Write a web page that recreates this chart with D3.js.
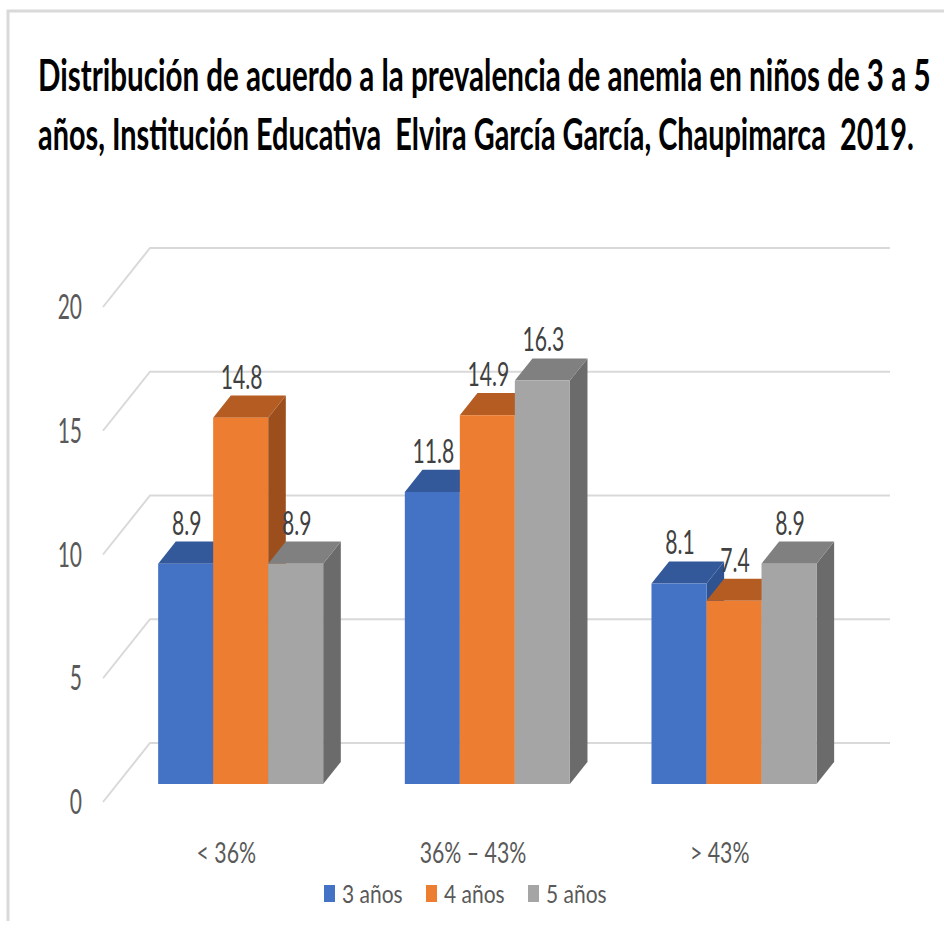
<!DOCTYPE html>
<html>
<head>
<meta charset="utf-8">
<script src="https://cdn.jsdelivr.net/npm/d3@7"></script>
<style>
  body { margin: 0; background: #fff; }
  svg { display: block; }
</style>
</head>
<body>
<div id="chart"></div>
<script>
// datos
const categories = ["< 36%", "36% \u2013 43%", "> 43%"];
const series = ["3 años", "4 años", "5 años"];
const valores3 = [8.9, 11.8, 8.1];
const valores4 = [14.8, 14.9, 7.4];
const valores5 = [8.9, 16.3, 8.9];
const yTicks = [0, 5, 10, 15, 20];
const titleLines = [
  "Distribución de acuerdo a la prevalencia de anemia en niños de 3 a 5",
  "años, Institución Educativa  Elvira García García, Chaupimarca  2019."
];

const seriesValues = [valores3, valores4, valores5];
const colors = [
  { front: "#4472C4", top: "#34599b", side: "#2f5290" },
  { front: "#ED7D31", top: "#b55c22", side: "#9c4f1c" },
  { front: "#A5A5A5", top: "#808080", side: "#6b6b6b" }
];

const W = 944, H = 929;
const font = "Lato, 'Open Sans', sans-serif";

const svg = d3.select("#chart").append("svg")
  .attr("width", W).attr("height", H);

svg.append("rect").attr("width", W).attr("height", H).attr("fill", "#fff");

// marco
svg.append("path")
  .attr("d", `M8,${H - 8} L8,11 L${W},11`)
  .attr("fill", "none").attr("stroke", "#d9d9d9").attr("stroke-width", 3);

// título (comprimido horizontalmente como en el original)
const titleWidths = [893, 876];
svg.selectAll(".title").data(titleLines).join("text")
  .attr("class", "title")
  .style("font-family", font).style("font-weight", 700)
  .style("font-size", "44px").style("white-space", "pre")
  .attr("fill", "#000")
  .text(d => d)
  .attr("transform", function(d, i) {
    const k = titleWidths[i] / this.getComputedTextLength();
    return `translate(38,${91 + i * 59}) scale(${k},1)`;
  });

// geometría 3D: (x en el suelo, valor, profundidad 0..1)
const origin = { x: 103, y: 802 };
const depth = { x: 47, y: -59 };
const plotW = 740;
const y = d3.scaleLinear().domain([0, 20]).range([0, 495]);
const x0 = d3.scaleBand().domain(categories).range([0, plotW]);
const x1 = d3.scaleBand().domain(series).range([0, x0.bandwidth()]).paddingOuter(0.742);
const dFront = 0.305, dBack = 0.68;

function P(xp, v, d) {
  return [origin.x + xp + depth.x * d, origin.y - y(v) + depth.y * d];
}

// cuadrícula
const grid = svg.append("g");
yTicks.forEach(t => {
  const a = P(0, t, 0), b = P(0, t, 1), c = P(plotW, t, 1);
  grid.append("path")
    .attr("d", `M${a[0]},${a[1]} L${b[0]},${b[1]} L${c[0]},${c[1]}`)
    .attr("fill", "none").attr("stroke", "#d9d9d9").attr("stroke-width", 2);
});

// etiquetas eje Y
svg.selectAll(".ytick").data(yTicks).join("text")
  .attr("class", "ytick")
  .attr("transform", d => { const p = P(0, d, 0); return `translate(82,${p[1] + 12}) scale(0.6,1)`; })
  .attr("text-anchor", "end")
  .style("font-family", font).style("font-size", "35px")
  .attr("fill", "#595959")
  .text(d => d);

// barras
const bars = svg.append("g");
const labelData = [];
categories.forEach((cat, ci) => {
  series.forEach((s, si) => {
    const v = seriesValues[si][ci];
    const c = colors[si];
    const xl = x0(cat) + x1(s), xr = xl + x1.bandwidth();
    const fl = P(xl, v, dFront), fr = P(xr, v, dFront), f0 = P(xr, 0, dFront), f0l = P(xl, 0, dFront);
    const bl = P(xl, v, dBack), br = P(xr, v, dBack), b0 = P(xr, 0, dBack);
    const g = bars.append("g");
    g.append("path")
      .attr("d", `M${fr[0]},${fr[1]} L${br[0]},${br[1]} L${b0[0]},${b0[1]} L${f0[0]},${f0[1]} Z`)
      .attr("fill", c.side);
    g.append("path")
      .attr("d", `M${fl[0]},${fl[1]} L${fr[0]},${fr[1]} L${br[0]},${br[1]} L${bl[0]},${bl[1]} Z`)
      .attr("fill", c.top);
    g.append("rect")
      .attr("x", fl[0]).attr("y", fl[1])
      .attr("width", fr[0] - fl[0]).attr("height", f0l[1] - fl[1])
      .attr("fill", c.front);
    labelData.push({ v, x: (fl[0] + fr[0]) / 2 + 1, y: bl[1] - 7 });
  });
});

// etiquetas de datos
svg.selectAll(".vlabel").data(labelData).join("text")
  .attr("class", "vlabel")
  .attr("transform", d => `translate(${d.x},${d.y}) scale(0.64,1)`)
  .attr("text-anchor", "middle")
  .style("font-family", font).style("font-size", "33px")
  .attr("fill", "#404040")
  .text(d => d3.format(".1f")(d.v));

// etiquetas de categoría
svg.selectAll(".xlabel").data(categories).join("text")
  .attr("class", "xlabel")
  .attr("transform", d => `translate(${origin.x + x0(d) + x0.bandwidth() / 2},863) scale(0.76,1)`)
  .attr("text-anchor", "middle")
  .style("font-family", font).style("font-size", "28px")
  .attr("fill", "#595959")
  .text(d => d);

// leyenda
const legend = svg.append("g");
series.forEach((s, i) => {
  const lx = 324 + i * 102;
  legend.append("rect")
    .attr("x", lx).attr("y", 885).attr("width", 11).attr("height", 17)
    .attr("fill", colors[i].front);
  legend.append("text")
    .attr("transform", `translate(${lx + 18},903) scale(0.84,1)`)
    .style("font-family", font).style("font-size", "25px")
    .attr("fill", "#595959")
    .text(s);
});
</script>
</body>
</html>
